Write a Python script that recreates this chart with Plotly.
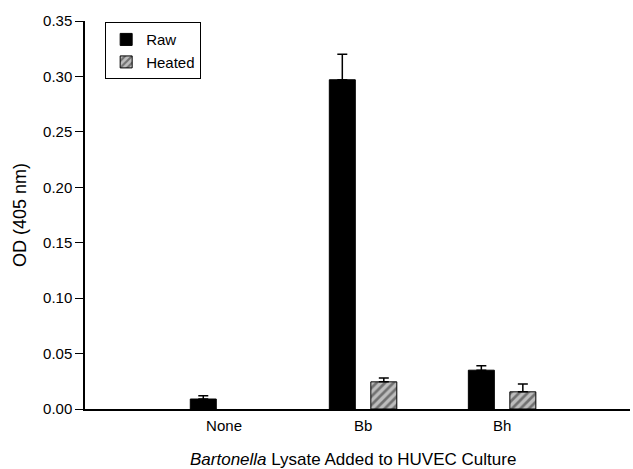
import plotly.graph_objects as go

# OD readings (405 nm) for HUVEC cultures exposed to Bartonella lysates
categories = ["None", "Bb", "Bh"]
raw_od = [0.009, 0.297, 0.035]
raw_err = [0.003, 0.023, 0.004]
heated_od = [None, 0.0245, 0.0155]
heated_err = [None, 0.0035, 0.007]
y_ticks = [0.00, 0.05, 0.10, 0.15, 0.20, 0.25, 0.30, 0.35]

FONT = "Liberation Sans, Arial, sans-serif"

fig = go.Figure()
fig.add_trace(go.Bar(
    name="Raw", x=categories, y=raw_od,
    marker=dict(color="black", line=dict(color="black", width=1)),
    error_y=dict(type="data", array=raw_err, arrayminus=[0] * 3, symmetric=False,
                 color="black", thickness=1.5, width=5),
))
fig.add_trace(go.Bar(
    name="Heated", x=categories, y=heated_od,
    marker=dict(color="#bdbdbd", line=dict(color="black", width=1),
                pattern=dict(shape="/", bgcolor="#bdbdbd", fgcolor="#262626",
                             size=6, solidity=0.45)),
    error_y=dict(type="data", array=heated_err, arrayminus=[0] * 3, symmetric=False,
                 color="black", thickness=1.5, width=5),
))

fig.update_layout(
    width=633, height=469,
    margin=dict(l=85, r=3, t=21, b=60),
    paper_bgcolor="white", plot_bgcolor="white",
    barmode="group", bargap=0.403, bargroupgap=0.374,
    font=dict(family=FONT, size=15, color="black"),
    showlegend=True,
    legend=dict(x=0.037, y=0.997, xanchor="left", yanchor="top",
                bordercolor="black", borderwidth=1, bgcolor="white",
                font=dict(size=15), tracegroupgap=0),
    xaxis=dict(range=[-1.0, 2.92], showline=True, linecolor="black", linewidth=1.5,
               ticks="", showgrid=False, zeroline=False, ticklabelstandoff=2,
               tickfont=dict(size=15)),
    yaxis=dict(range=[0, 0.35], tickvals=y_ticks, tickformat=".2f",
               showline=True, linecolor="black", linewidth=1.5,
               ticks="outside", ticklen=8, tickwidth=1, tickcolor="black",
               showgrid=False, zeroline=False, tickfont=dict(size=15),
               title=dict(text="OD (405 nm)", font=dict(size=18), standoff=12)),
    annotations=[dict(
        text="<i>Bartonella</i> Lysate Added to HUVEC Culture",
        xref="paper", yref="paper", x=(353 - 85) / 545, y=-0.131,
        xanchor="center", yanchor="middle", showarrow=False,
        font=dict(size=17),
    )],
)

fig.write_html("out.html")
